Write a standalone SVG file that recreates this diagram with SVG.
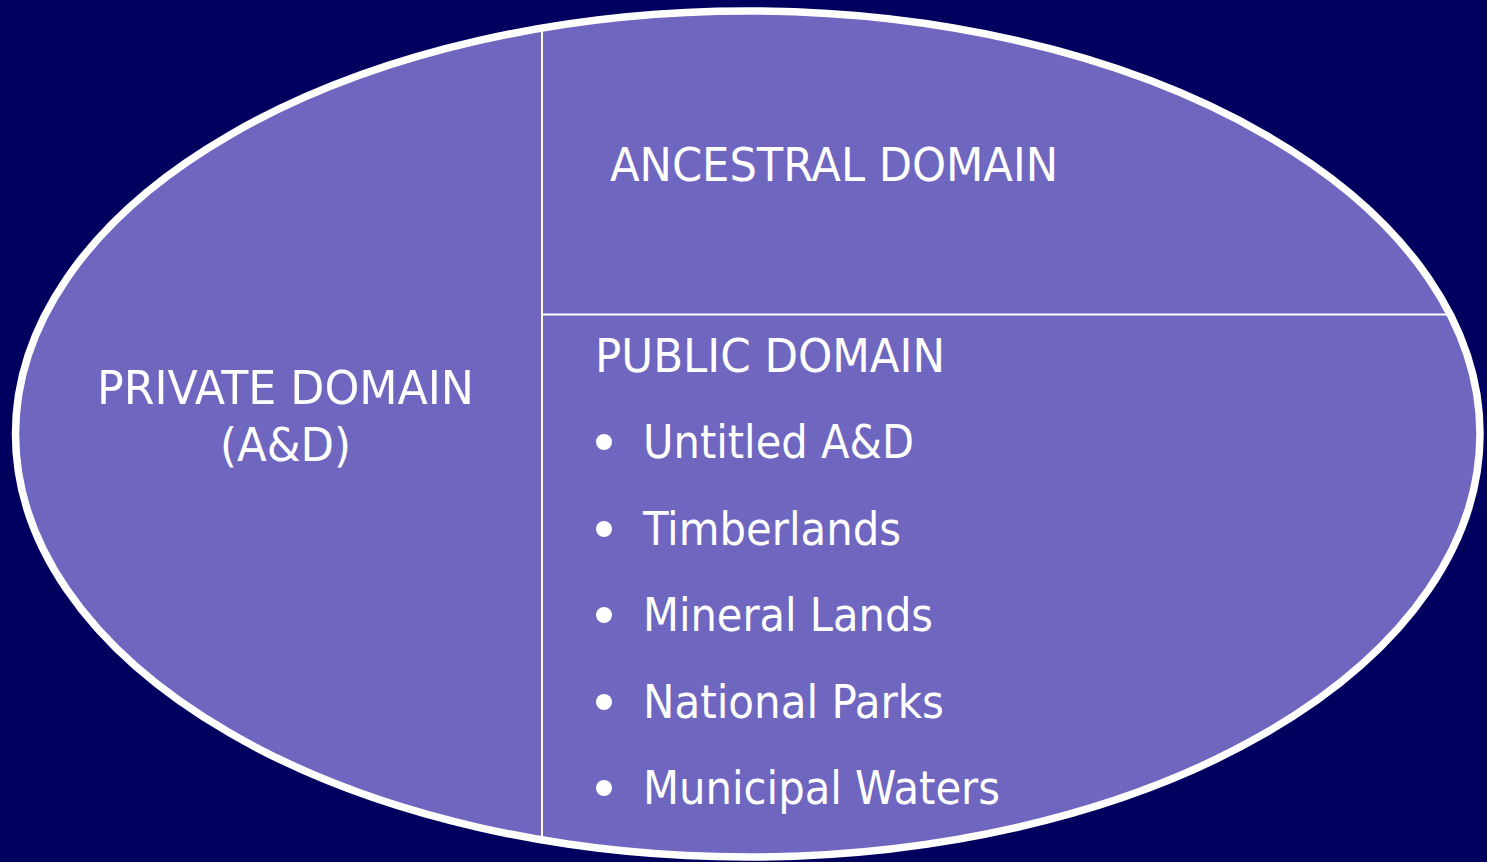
<svg xmlns="http://www.w3.org/2000/svg" width="1487" height="862" viewBox="0 0 1487 862">
<style>
.t{font-family:"DejaVu Sans Condensed","DejaVu Sans","Liberation Sans",sans-serif;font-size:47px;fill:#ffffff}
.div{stroke:#ffffff;stroke-width:2;fill:none}
</style>
<rect width="1487" height="862" fill="#00005f"/>
<g id="ellipse">
<ellipse cx="747.75" cy="434" rx="732.25" ry="423" fill="#6f66c0" stroke="#ffffff" stroke-width="7.5"/>
</g>
<g id="dividers">
<line class="div" x1="542" y1="30" x2="542" y2="838"/>
<line class="div" x1="542" y1="314.5" x2="1450" y2="314.5"/>
</g>
<g id="private">
<text class="t" x="97" y="404" textLength="377" lengthAdjust="spacingAndGlyphs">PRIVATE DOMAIN</text>
<text class="t" x="220" y="461" textLength="131" lengthAdjust="spacingAndGlyphs">(A&amp;D)</text>
</g>
<g id="ancestral">
<text class="t" x="610" y="181" textLength="448" lengthAdjust="spacingAndGlyphs">ANCESTRAL DOMAIN</text>
</g>
<g id="public">
<text class="t" x="595" y="372" textLength="350" lengthAdjust="spacingAndGlyphs">PUBLIC DOMAIN</text>
<circle cx="604" cy="442" r="8" fill="#ffffff"/>
<text class="t" x="643" y="458" textLength="271" lengthAdjust="spacingAndGlyphs">Untitled A&amp;D</text>
<circle cx="604" cy="529" r="8" fill="#ffffff"/>
<text class="t" x="643" y="545" textLength="258" lengthAdjust="spacingAndGlyphs">Timberlands</text>
<circle cx="604" cy="615" r="8" fill="#ffffff"/>
<text class="t" x="643" y="631" textLength="290" lengthAdjust="spacingAndGlyphs">Mineral Lands</text>
<circle cx="604" cy="702" r="8" fill="#ffffff"/>
<text class="t" x="643" y="718" textLength="301" lengthAdjust="spacingAndGlyphs">National Parks</text>
<circle cx="604" cy="788" r="8" fill="#ffffff"/>
<text class="t" x="643" y="804" textLength="357" lengthAdjust="spacingAndGlyphs">Municipal Waters</text>
</g>
</svg>
